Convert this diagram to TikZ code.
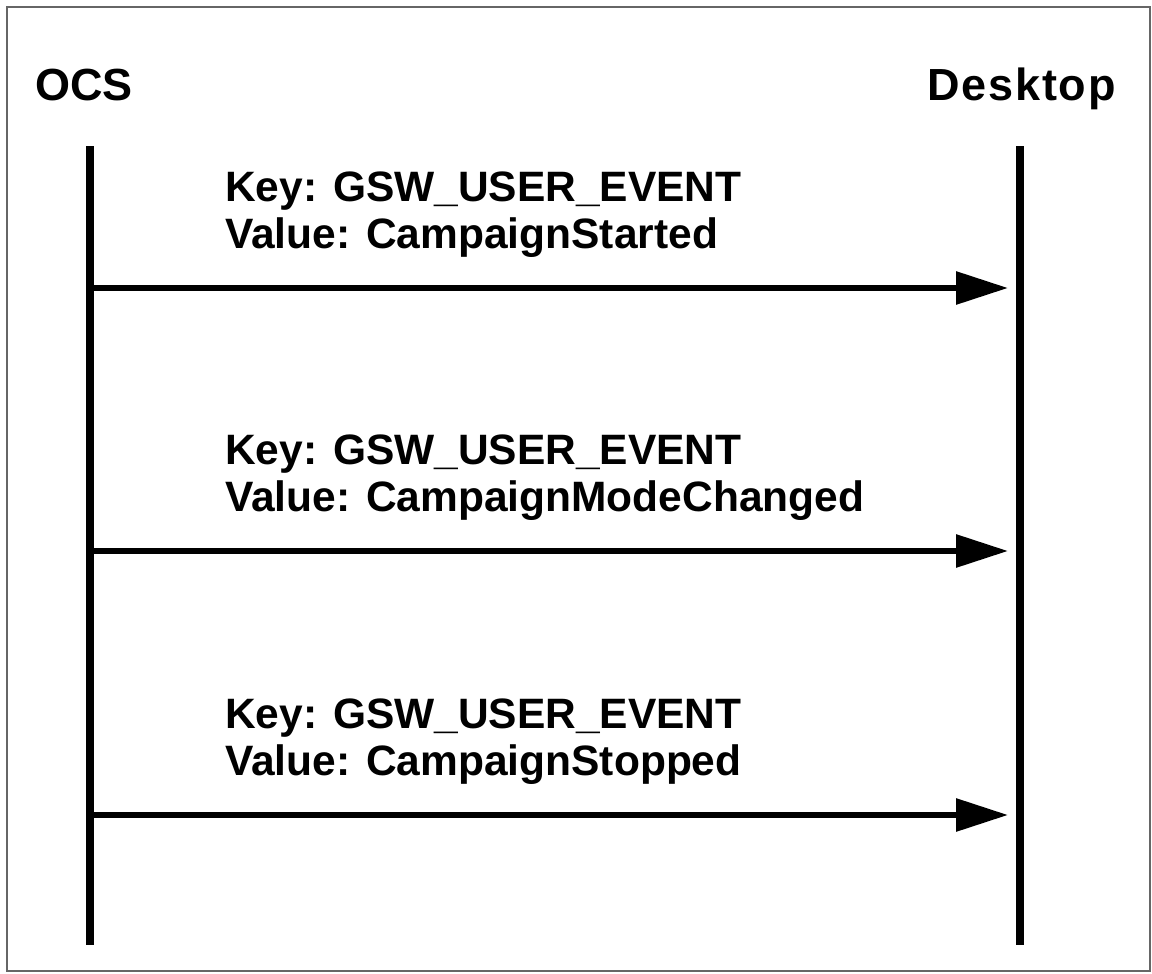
\documentclass[tikz,border=0pt]{standalone}
\usepackage{fontspec}
\setmainfont{Liberation Sans}
\newfontfamily\spacedfont[LetterSpace=4]{Liberation Sans}
\usetikzlibrary{arrows.meta}
\begin{document}
\begin{tikzpicture}[x=1pt,y=-1pt,
  frame/.style={draw=black!60,line width=2pt},
  head/.style={inner sep=0pt,font=\fontsize{45}{50}\selectfont\bfseries},
  msgtext/.style={inner sep=0pt,anchor=base west,font=\fontsize{42.5}{48}\selectfont\bfseries},
  lifeline/.style={line width=8pt},
  msg/.style={line width=6pt,shorten >=12pt,
    -{Triangle[length=52pt,width=32pt]}}]
  \useasboundingbox (0,0) rectangle (1152,974);
  \draw[frame] (7,7) rectangle (1150,971);

  % participants
  \node[head,anchor=base west] (ocs) at (35,100) {OCS};
  \node[head,anchor=base east,font=\fontsize{45}{50}\spacedfont\bfseries] (desk) at (1116,100) {Desktop};

  % lifelines
  \coordinate (ocsTop) at (89.5,146);
  \coordinate (ocsBot) at (89.5,945);
  \coordinate (deskTop) at (1020,146);
  \coordinate (deskBot) at (1020,945);
  \draw[lifeline] (ocsTop) -- (ocsBot);
  \draw[lifeline] (deskTop) -- (deskBot);

  % messages
  \foreach \i/\y/\val in {1/288/CampaignStarted,2/551/CampaignModeChanged,3/815/CampaignStopped}{
    \coordinate (src\i) at (89.5,\y);
    \coordinate (dst\i) at (1020,\y);
    \draw[msg] (src\i) -- (dst\i);
    \node[msgtext] (key\i) at (225,\y-87) {Key: GSW\_USER\_EVENT};
    \node[msgtext] (val\i) at (225,\y-40) {Value: \val};
  }
\end{tikzpicture}
\end{document}
